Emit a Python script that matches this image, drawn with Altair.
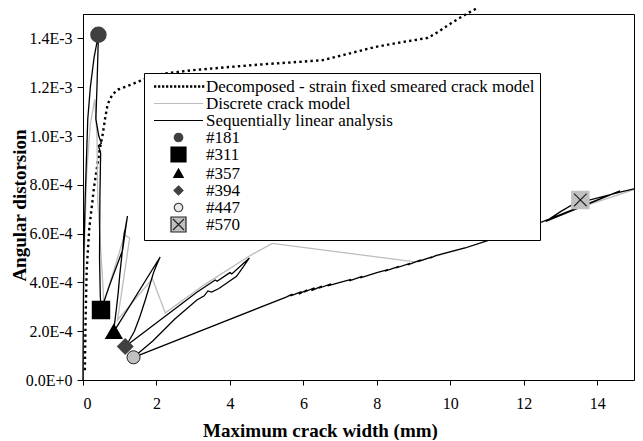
import math
import altair as alt
import pandas as pd

names = ["Decomposed - strain fixed smeared crack model", "Discrete crack model",
         "Sequentially linear analysis", "#181", "#311", "#357", "#394", "#447", "#570"]

# Decomposed - strain fixed smeared crack model (y in 1E-3)
dec_x = [0.05, 0.07, 0.10, 0.17, 0.30, 0.45, 0.54, 0.60, 0.67, 0.80, 0.95, 1.30, 1.70, 2.16,
         3.00, 4.00, 5.00, 6.00, 6.53, 7.30, 7.96, 8.70, 9.39, 9.66, 10.03, 10.39, 10.74]
dec_y = [0.04, 0.25, 0.45, 0.62, 0.79, 0.94, 1.01, 1.07, 1.13, 1.17, 1.19, 1.21, 1.235, 1.255,
         1.27, 1.283, 1.295, 1.305, 1.311, 1.34, 1.365, 1.385, 1.402, 1.426, 1.463, 1.496, 1.525]

# Discrete crack model
dis_x = [0.00, 0.02, 0.05, 0.10, 0.20, 0.32, 0.38, 0.40, 0.57, 1.13, 1.27, 0.94, 1.89, 2.24,
         3.30, 4.55, 5.15, 9.04, 10.40, 12.14, 13.50, 15.00]
dis_y = [0.00, 0.35, 0.60, 0.85, 1.05, 1.15, 1.00, 0.74, 0.316, 0.594, 0.582, 0.246, 0.415, 0.275,
         0.39, 0.51, 0.56, 0.484, 0.541, 0.625, 0.705, 0.78]

# Sequentially linear analysis
sla_x = [0.00, 0.01, 0.02, 0.06, 0.13, 0.20, 0.30, 0.42,
         0.38, 0.35, 0.43, 0.50, 0.42, 0.48, 0.46, 0.45, 0.47, 0.49,
         0.75, 1.08, 1.21,
         1.15, 1.12, 1.05, 1.00, 0.96, 0.90, 0.85, 0.84,
         2.10,
         2.00, 1.92, 1.80, 1.70, 1.55, 1.40, 1.25, 1.15,
         3.10, 3.60, 3.65, 4.00, 4.05, 4.53,
         4.30, 4.18, 3.70, 3.50, 3.40, 3.30, 3.10, 2.50, 1.90, 1.376,
         5.53, 5.70, 5.65, 5.95, 5.88, 6.10, 6.02, 6.30, 6.22, 6.50, 6.42, 6.75, 6.66, 7.00,
         7.30, 7.25, 7.60, 7.55, 8.00, 8.30, 8.22, 8.60, 8.52, 8.90, 8.84, 9.20, 9.12, 9.50,
         9.45, 9.60, 10.40, 11.20, 12.14, 14.62, 12.60, 13.00, 13.54, 13.60, 14.62, 15.00]
sla_y = [0.00, 0.30, 0.50, 0.75, 1.07, 1.20, 1.32, 1.415,
         1.20, 1.07, 1.00, 0.97, 0.96, 0.93, 0.75, 0.50, 0.35, 0.287,
         0.40, 0.533, 0.672,
         0.62, 0.60, 0.50, 0.43, 0.36, 0.28, 0.22, 0.198,
         0.504,
         0.47, 0.44, 0.38, 0.33, 0.26, 0.20, 0.16, 0.137,
         0.36, 0.41, 0.405, 0.44, 0.435, 0.50,
         0.45, 0.425, 0.375, 0.36, 0.365, 0.345, 0.328, 0.25, 0.16, 0.093,
         0.34, 0.352, 0.345, 0.362, 0.352, 0.37, 0.36, 0.378, 0.366, 0.385, 0.376, 0.394, 0.386, 0.40,
         0.412, 0.406, 0.425, 0.419, 0.44, 0.452, 0.446, 0.466, 0.459, 0.478, 0.472, 0.492, 0.485, 0.505,
         0.499, 0.51, 0.541, 0.58, 0.627, 0.775, 0.65, 0.69, 0.738, 0.73, 0.77, 0.783]

# Marked steps
mk_name = ["#181", "#311", "#357", "#394", "#447", "#570"]
mk_x = [0.42, 0.49, 0.84, 1.15, 1.376, 13.54]
mk_y = [1.415, 0.287, 0.198, 0.137, 0.093, 0.738]

x_ticks = [0, 2, 4, 6, 8, 10, 12, 14]
y_ticks = [0.0, 0.0002, 0.0004, 0.0006, 0.0008, 0.0010, 0.0012, 0.0014]


def line_df(xs, ys, name):
    return pd.DataFrame({"x": xs, "y": [v * 1e-3 for v in ys], "series": name,
                         "i": list(range(len(xs)))})


mk_df = pd.DataFrame({"x": mk_x, "y": [v * 1e-3 for v in mk_y], "series": mk_name})

FONT = "Liberation Serif"


# ---- legend symbol paths (unit = 5 px, symbolSize 100) ----
def poly_circle(r, n=20):
    pts = [f"{r * math.cos(2 * math.pi * k / n):.3f},{r * math.sin(2 * math.pi * k / n):.3f}"
           for k in range(n)]
    return "M" + "L".join(pts) + "Z"


LINE = "M-4.9,0L4.9,0"
DOTS = " ".join(f"M{-4.9 + k * 0.8:.2f},-0.23h0.46v0.46h-0.46Z" for k in range(13))
CIRC = poly_circle(0.85)
SQR = "M-1.5,-1.5L1.5,-1.5L1.5,1.5L-1.5,1.5Z"
TRI = "M0,-0.9L0.95,0.8L-0.95,0.8Z"
DIA = "M0,-0.9L0.9,0L0,0.9L-0.9,0Z"
XSQ = "M-1.5,-1.5L1.5,-1.5L1.5,1.5L-1.5,1.5Z M-1.1,-1.1L1.1,1.1 M1.1,-1.1L-1.1,1.1"


def ternary(mapping, default):
    s = f"'{default}'"
    for k, v in reversed(list(mapping.items())):
        s = f"datum.value === '{k}' ? '{v}' : ({s})"
    return s


shape_expr = ternary({names[0]: DOTS, names[1]: LINE, names[2]: LINE, "#181": CIRC,
                      "#311": SQR, "#357": TRI, "#394": DIA, "#447": CIRC, "#570": XSQ}, CIRC)
fill_expr = ternary({names[0]: "black", names[1]: "transparent", names[2]: "transparent",
                     "#181": "#404040", "#311": "black", "#357": "black", "#394": "#404040",
                     "#447": "#e8e8e8", "#570": "#c0c0c0"}, "black")

legend = alt.Legend(
    title=None, orient="none", legendX=61, legendY=59, padding=5,
    strokeColor="black", fillColor="white", cornerRadius=0,
    labelFont=FONT, labelFontSize=17, labelColor="black", labelLimit=0,
    symbolSize=100, symbolStrokeWidth=1.2, symbolOffset=21, labelOffset=19,
    rowPadding=-4, symbolOpacity=1,
    symbolType={"expr": shape_expr}, symbolFillColor={"expr": fill_expr},
)

color = alt.Color("series:N", scale=alt.Scale(
    domain=names,
    range=["transparent", "#bdbdbd", "black", "#404040", "black", "black", "#404040",
           "#404040", "#222222"]),
    legend=legend)

xenc = alt.X("x:Q", scale=alt.Scale(domain=[0, 15], nice=False),
             axis=alt.Axis(values=x_ticks, title="Maximum crack width (mm)",
                           titleX=237, titleY=56, titleBaseline="alphabetic",
                           labelPadding=10))
yenc = alt.Y("y:Q", scale=alt.Scale(domain=[0, 0.0015], nice=False),
             axis=alt.Axis(values=y_ticks, format=".1e", labelExpr="upper(datum.label)",
                           title="Angular distorsion", titleX=-58, titleY=191,
                           titleBaseline="alphabetic", titleAngle=270, labelPadding=5))

dec = alt.Chart(line_df(dec_x, dec_y, names[0])).mark_line(
    stroke="black", strokeWidth=2.4, strokeDash=[2.4, 3.2], strokeCap="butt").encode(
    x=xenc, y=yenc, order="i:Q")
dis = alt.Chart(line_df(dis_x, dis_y, names[1])).mark_line(strokeWidth=1.3).encode(
    x=xenc, y=yenc, color=color, order="i:Q")
sla = alt.Chart(line_df(sla_x, sla_y, names[2])).mark_line(strokeWidth=1.3).encode(
    x=xenc, y=yenc, color=color, order="i:Q")


def marker(name, **kw):
    return alt.Chart(mk_df).transform_filter(alt.datum.series == name).mark_point(
        opacity=1, fillOpacity=1, **kw).encode(x=xenc, y=yenc)


m181 = marker("#181", shape="circle", filled=True, fill="#404040", stroke="#404040", size=210)
m311 = marker("#311", shape="square", filled=True, fill="black", stroke="black", size=270)
m357 = marker("#357", shape="triangle-up", filled=True, fill="black", stroke="black", size=220)
m394 = marker("#394", shape="diamond", filled=True, fill="#404040", stroke="#404040", size=200)
m447 = marker("#447", shape="circle", filled=True, fill="#c0c0c0", stroke="#202020",
              strokeWidth=1, size=170)
m570a = marker("#570", shape="square", filled=True, fill="#c0c0c0", stroke="#c0c0c0", size=270)
m570b = marker("#570", shape="M-1,-1L1,1M1,-1L-1,1", filled=False, stroke="#222222",
               strokeWidth=1.1, size=160)

chart = alt.layer(dec, dis, sla, m181, m311, m357, m394, m447, m570a, m570b).properties(
    width=551, height=366,
    autosize=alt.AutoSizeParams(type="none"),
    padding={"left": 75, "top": 6, "right": 1, "bottom": 60},
).configure_view(stroke="black", strokeWidth=1).configure_axis(
    grid=False, domainColor="black", domainWidth=1, tickColor="black", tickSize=5,
    labelFont=FONT, labelFontSize=16, labelColor="black",
    titleFont=FONT, titleFontSize=19, titleFontWeight="bold", titleColor="black",
).configure_axisY(tickSize=6)

chart.save("out.html", embed_options={"renderer": "svg", "actions": False})
